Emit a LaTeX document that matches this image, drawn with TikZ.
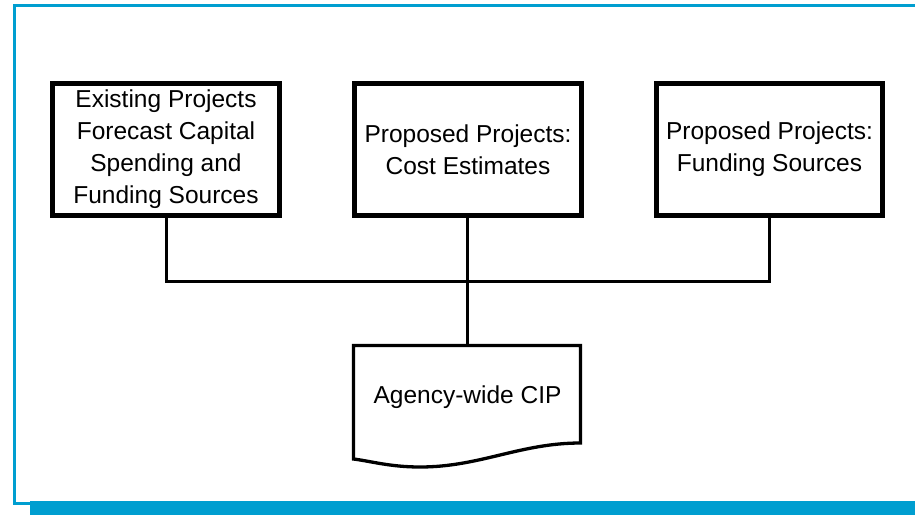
\documentclass[tikz,border=0pt]{standalone}
\usepackage{fontspec}
\setmainfont{Liberation Sans}
\definecolor{framecol}{RGB}{0,158,208}
\begin{document}
\begin{tikzpicture}[x=1pt,y=-1pt,
  boxstyle/.style={draw=black,line width=5pt,minimum width=226.5pt,minimum height=132.5pt,
    inner sep=0pt,align=center,font=\fontsize{24.5}{32}\selectfont},
  conn/.style={draw=black,line width=3pt},
  docline/.style={draw=black,line width=3.3pt,line join=miter}]
\useasboundingbox (0,0) rectangle (915,515);
% frame
\fill[framecol] (30,501) rectangle (915,515);
\draw[framecol,line width=3pt] (915,5.5) -- (14.5,5.5) -- (14.5,503) -- (30,503);
% boxes
\node[boxstyle] (b1) at (166,149.25) {Existing Projects\\Forecast Capital\\Spending and\\Funding Sources};
\node[boxstyle] (b2) at (468,149.25) {Proposed Projects:\\Cost Estimates};
\node[boxstyle] (b3) at (769.5,149.25) {Proposed Projects:\\Funding Sources};
% document shape
\coordinate (dtl) at (353.5,345.5);
\coordinate (dtr) at (580.5,345.5);
\draw[docline] (353.5,459) -- (dtl) -- (dtr) -- (580.5,443)
  .. controls (520,443) and (480,467) .. (420,467)
  .. controls (390,467) and (370,461) .. (353.5,459) -- cycle;
\node[font=\fontsize{24.5}{32}\selectfont,inner sep=0pt] (doc) at (467.5,397) {Agency-wide CIP};
\coordinate (dtop) at (467.5,347);
% connectors
\coordinate (j1) at (166,281.5);
\coordinate (j3) at (769.5,281.5);
\draw[conn] (b1.south) -- (j1) -- (j3) -- (b3.south);
\draw[conn] (b2.south -| dtop) -- (dtop);
\end{tikzpicture}
\end{document}
